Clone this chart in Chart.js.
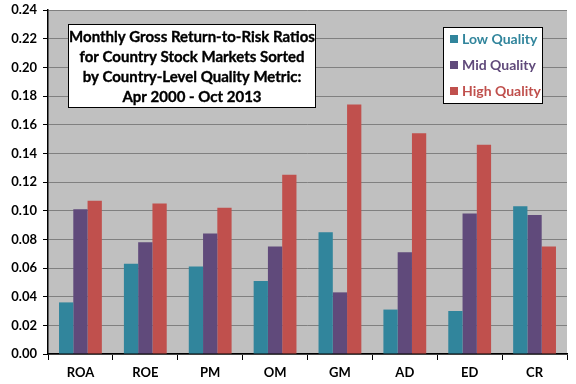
<!DOCTYPE html>
<html>
<head>
<meta charset="utf-8">
<script src="https://cdn.jsdelivr.net/npm/chart.js@4.4.1/dist/chart.umd.min.js"></script>
<style>
  html, body { margin: 0; padding: 0; background: #fff; }
  #wrap { width: 576px; height: 384px; }
</style>
</head>
<body>
<div id="wrap"><canvas id="qualityChart" width="576" height="384"></canvas></div>
<script>
// categories and series
const metrics = ['ROA', 'ROE', 'PM', 'OM', 'GM', 'AD', 'ED', 'CR'];
const lowQuality = [0.036, 0.063, 0.061, 0.051, 0.085, 0.031, 0.030, 0.103];
const midQuality = [0.101, 0.078, 0.084, 0.075, 0.043, 0.071, 0.098, 0.097];
const highQuality = [0.107, 0.105, 0.102, 0.125, 0.174, 0.154, 0.146, 0.075];
const seriesNames = ['Low Quality', 'Mid Quality', 'High Quality'];
const seriesColors = ['#31859C', '#604A7B', '#C0504D'];
const titleLines = [
  'Monthly Gross Return-to-Risk Ratios',
  'for Country Stock Markets Sorted',
  'by Country-Level Quality Metric:',
  'Apr 2000 - Oct 2013'
];

const FONT = 'Lato, "Open Sans", sans-serif';

// grey plot area
const plotBg = {
  id: 'plotBg',
  beforeDraw(chart) {
    const { ctx, chartArea: a } = chart;
    ctx.save();
    ctx.fillStyle = '#C0C0C0';
    ctx.fillRect(a.left, a.top, a.right - a.left, a.bottom - a.top);
    ctx.restore();
  }
};

// boxed title and legend sitting inside the plot
const boxes = {
  id: 'boxes',
  afterDraw(chart) {
    const ctx = chart.ctx;
    ctx.save();
    // title box
    ctx.fillStyle = '#fff';
    ctx.fillRect(68, 24, 247, 83);
    ctx.strokeStyle = '#000';
    ctx.lineWidth = 1;
    ctx.strokeRect(68.5, 24.5, 247, 83);
    ctx.fillStyle = '#000';
    ctx.strokeStyle = '#000';
    ctx.lineWidth = 0.35;
    ctx.font = 'bold 15px ' + FONT;
    ctx.textAlign = 'center';
    ctx.textBaseline = 'middle';
    titleLines.forEach((t, i) => {
      ctx.fillText(t, 192, 37 + i * 20);
      ctx.strokeText(t, 192, 37 + i * 20);
    });

    // legend box
    ctx.lineWidth = 1;
    ctx.fillStyle = '#fff';
    ctx.fillRect(443, 27, 99, 76);
    ctx.strokeRect(443.5, 27.5, 99, 76);
    ctx.textAlign = 'left';
    chart.data.datasets.forEach((ds, i) => {
      const y = 39 + i * 26;
      ctx.fillStyle = ds.backgroundColor;
      ctx.fillRect(450, y - 4, 8, 8);
      ctx.font = 'bold 14px ' + FONT;
      ctx.fillText(ds.label, 462, y);
    });
    ctx.restore();
  }
};

new Chart(document.getElementById('qualityChart'), {
  type: 'bar',
  data: {
    labels: metrics,
    datasets: [
      { label: seriesNames[0], data: lowQuality, backgroundColor: seriesColors[0] },
      { label: seriesNames[1], data: midQuality, backgroundColor: seriesColors[1] },
      { label: seriesNames[2], data: highQuality, backgroundColor: seriesColors[2] }
    ]
  },
  options: {
    responsive: false,
    animation: false,
    layout: { padding: { top: 10, right: 9, left: 0, bottom: 0 } },
    datasets: { bar: { categoryPercentage: 0.66, barPercentage: 1 } },
    plugins: { legend: { display: false }, tooltip: { enabled: false } },
    scales: {
      x: {
        offset: true,
        grid: { display: true, drawOnChartArea: false, offset: true, color: '#000', tickLength: 6 },
        border: { color: '#000', width: 1.5 },
        ticks: { color: '#000', font: { family: FONT, weight: 'bold', size: 13 }, padding: 5 },
        afterFit(s) { s.height = 30; }
      },
      y: {
        min: 0,
        max: 0.24,
        ticks: {
          stepSize: 0.02,
          color: '#000',
          font: { family: FONT, weight: 'bold', size: 13 },
          padding: 6,
          callback: v => v.toFixed(2)
        },
        grid: { color: '#808080', lineWidth: 1, tickLength: 5, tickColor: '#000' },
        border: { color: '#000', width: 1.5 },
        afterFit(s) { s.width = 48; s.paddingTop = 0; s.paddingBottom = 0; }
      }
    }
  },
  plugins: [plotBg, boxes]
});
</script>
</body>
</html>
